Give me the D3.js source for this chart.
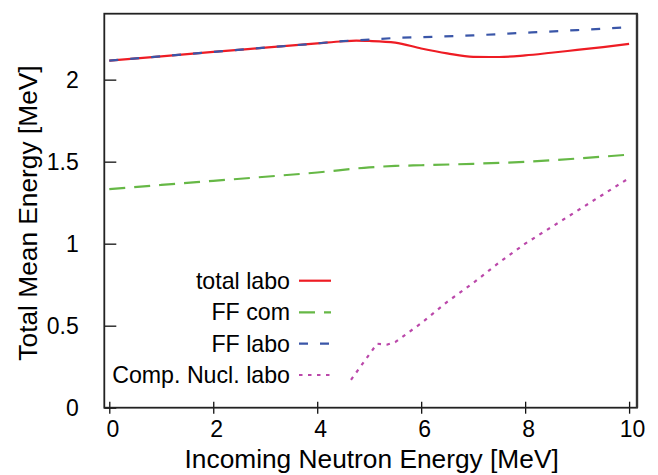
<!DOCTYPE html>
<html>
<head>
<meta charset="utf-8">
<script src="https://cdn.jsdelivr.net/npm/d3@7"></script>
<style>
  body { margin: 0; background: #fff; }
  svg { display: block; }
  text { font-family: "Liberation Sans", Arial, Helvetica, sans-serif; fill: #000; }
</style>
</head>
<body>
<svg id="chart" width="658" height="475"></svg>
<script>
// ---- data ----
const xTicks = [0, 2, 4, 6, 8, 10];
const yTicks = [0, 0.5, 1, 1.5, 2];
const yTickLabels = ["0", "0.5", "1", "1.5", "2"];

const totalLaboX = [0, 1, 2, 3, 4, 4.5, 4.75, 5, 5.5, 6, 6.5, 7, 7.5, 8, 8.5, 9, 9.5, 10];
const totalLaboY = [2.116, 2.142, 2.169, 2.195, 2.221, 2.234, 2.238, 2.236, 2.226, 2.190, 2.160, 2.139, 2.138, 2.148, 2.164, 2.181, 2.198, 2.218];

const ffComX = [0, 1, 2, 3, 4, 5, 5.5, 6, 7, 8, 9, 10];
const ffComY = [1.332, 1.358, 1.383, 1.408, 1.434, 1.465, 1.474, 1.478, 1.487, 1.499, 1.519, 1.543];

const ffLaboX = [0, 1, 2, 3, 4, 4.5, 5, 5.5, 6, 7, 8, 9, 10];
const ffLaboY = [2.116, 2.142, 2.169, 2.195, 2.221, 2.235, 2.244, 2.254, 2.259, 2.270, 2.286, 2.302, 2.320];

const compNuclX = [4.65, 5.15, 5.35, 5.5, 6, 6.5, 7, 7.5, 8, 8.5, 9, 9.5, 10];
const compNuclY = [0.17, 0.39, 0.385, 0.40, 0.515, 0.645, 0.76, 0.885, 1.0, 1.10, 1.20, 1.30, 1.40];

const seriesNames = ["total labo", "FF com", "FF labo", "Comp. Nucl. labo"];

// ---- styles ----
const styles = [
  { color: "#ee1c24", dash: null, width: 2.2, curve: d3.curveMonotoneX },
  { color: "#66b846", dash: "16,9", width: 2.2, curve: d3.curveMonotoneX },
  { color: "#3a56a8", dash: "9,12", width: 2.2, curve: d3.curveMonotoneX },
  { color: "#bb48aa", dash: "3.5,5.5", width: 2.2, curve: d3.curveLinear }
];
const seriesData = [
  totalLaboX.map((x, i) => [x, totalLaboY[i]]),
  ffComX.map((x, i) => [x, ffComY[i]]),
  ffLaboX.map((x, i) => [x, ffLaboY[i]]),
  compNuclX.map((x, i) => [x, compNuclY[i]])
];

const svg = d3.select("#chart");
const L = 104.3, R = 637, T = 13.7, B = 407.7;

const x = d3.scaleLinear().domain([-0.096, 10.152]).range([L, R]);
const y = d3.scaleLinear().domain([0, 2.402]).range([B, T]);

// lines
seriesData.forEach((d, i) => {
  const s = styles[i];
  const line = d3.line().x(p => x(p[0])).y(p => y(p[1])).curve(s.curve);
  svg.append("path")
    .datum(d)
    .attr("d", line)
    .attr("fill", "none")
    .attr("stroke", s.color)
    .attr("stroke-width", s.width)
    .attr("stroke-dasharray", s.dash)
    .attr("stroke-linejoin", "round");
});

// y axis
const yAxis = d3.axisLeft(y).tickValues(yTicks)
  .tickFormat((d, i) => yTickLabels[i])
  .tickSizeInner(-12).tickSizeOuter(0).tickPadding(25.5);
const gy = svg.append("g").attr("transform", `translate(${L},0)`).call(yAxis);
gy.select(".domain").remove();
gy.selectAll(".tick line").attr("stroke", "#111").attr("stroke-width", 1.3);
gy.selectAll(".tick text").style("font-size", "23px").attr("fill", "#000").attr("dy", "0.35em");

// x axis
const xAxis = d3.axisBottom(x).tickValues(xTicks).tickFormat(d3.format("d"))
  .tickSizeInner(6).tickSizeOuter(0).tickPadding(8);
const gx = svg.append("g").attr("transform", `translate(0,${B})`).call(xAxis);
gx.select(".domain").remove();
gx.selectAll(".tick line").attr("y1", -6).attr("y2", 6).attr("stroke", "#111").attr("stroke-width", 1.3);
gx.selectAll(".tick text").style("font-size", "23px").attr("fill", "#000")
  .attr("dx", 3).attr("y", 29.5).attr("dy", 0);

// frame
svg.append("rect").attr("x", L).attr("y", T).attr("width", R - L).attr("height", B - T)
  .attr("fill", "none").attr("stroke", "#222").attr("stroke-width", 1.8);
svg.append("line").attr("x1", R).attr("x2", R).attr("y1", T).attr("y2", B)
  .attr("stroke", "#333").attr("stroke-width", 2.4);

// axis titles
svg.append("text")
  .attr("x", (L + R) / 2 + 1).attr("y", 468)
  .attr("text-anchor", "middle").style("font-size", "26.3px")
  .text("Incoming Neutron Energy [MeV]");
svg.append("text")
  .attr("transform", `translate(36.5,213) rotate(-90)`)
  .attr("text-anchor", "middle").style("font-size", "26.3px")
  .text("Total Mean Energy [MeV]");

// legend
const legY = [280.7, 312.3, 343.6, 375];
const leg = svg.append("g");
seriesNames.forEach((name, i) => {
  const s = styles[i];
  leg.append("text").attr("x", 290).attr("y", legY[i]).attr("dy", "0.35em")
    .attr("text-anchor", "end").style("font-size", "23.2px").text(name);
  leg.append("line").attr("x1", 299).attr("x2", 331).attr("y1", legY[i]).attr("y2", legY[i])
    .attr("stroke", s.color).attr("stroke-width", s.width).attr("stroke-dasharray", s.dash);
});
</script>
</body>
</html>
